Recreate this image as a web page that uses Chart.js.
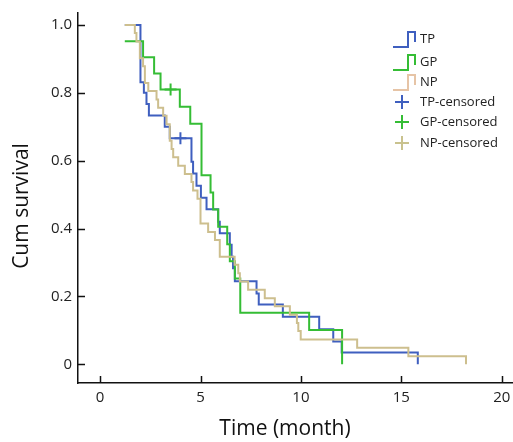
<!DOCTYPE html>
<html lang="en">
<head>
  <meta charset="UTF-8" />
  <title>Survival curves</title>
  <script src="https://cdn.jsdelivr.net/npm/chart.js"></script>
  <style>
    html, body { margin: 0; padding: 0; background: #fff; overflow: hidden; }
    #km { display: block; }
  </style>
</head>
<body>
  <canvas id="km" width="513" height="442"></canvas>

  <script>
    // step times (month) and survival
    const tpTime = [1.23, 2.01, 2.18, 2.31, 2.43, 3.22, 3.47, 4.55, 4.63, 4.8, 5.02, 5.3, 5.88, 5.96, 6.46, 6.55, 6.62, 6.71, 7.79, 7.9, 9.1, 10.91, 11.61, 12.03, 15.82];
    const tpSurv = [1, 0.831, 0.8, 0.767, 0.733, 0.7, 0.666, 0.597, 0.562, 0.526, 0.491, 0.457, 0.42, 0.386, 0.352, 0.317, 0.283, 0.245, 0.209, 0.176, 0.14, 0.103, 0.067, 0.035, 0];

    const gpTime = [1.23, 2.14, 2.69, 3.01, 3.97, 4.49, 5.05, 5.5, 5.63, 5.88, 6.33, 6.46, 6.71, 6.98, 10.41, 12.05];
    const gpSurv = [0.952, 0.905, 0.857, 0.81, 0.759, 0.709, 0.557, 0.506, 0.456, 0.405, 0.354, 0.304, 0.253, 0.152, 0.101, 0];

    const npTime = [1.23, 1.73, 1.81, 1.98, 2.14, 2.23, 2.4, 2.81, 2.89, 3.14, 3.31, 3.47, 3.56, 3.64, 3.89, 4.22, 4.55, 4.63, 4.85, 5.0, 5.38, 5.72, 5.96, 6.7, 6.88, 6.96, 7.37, 8.2, 8.7, 9.45, 9.8, 9.87, 9.99, 12.8, 15.35, 18.22];
    const npSurv = [1, 0.976, 0.951, 0.902, 0.878, 0.829, 0.805, 0.78, 0.756, 0.732, 0.707, 0.659, 0.634, 0.61, 0.585, 0.561, 0.537, 0.512, 0.488, 0.415, 0.39, 0.366, 0.317, 0.293, 0.268, 0.244, 0.22, 0.195, 0.171, 0.146, 0.122, 0.098, 0.073, 0.049, 0.024, 0];

    // censored marks
    const tpCensTime = [4.0];
    const tpCensSurv = [0.666];
    const gpCensTime = [3.51];
    const gpCensSurv = [0.81];
    const npCensTime = [];
    const npCensSurv = [];

    const xTicks = [0, 5, 10, 15, 20];
    const yTicks = [0, 0.2, 0.4, 0.6, 0.8, 1.0];
    const yTickLabels = ['0', '0.2', '0.4', '0.6', '0.8', '1.0'];

    const FONT = '"Open Sans", "DejaVu Sans", sans-serif';
    const colTP = '#3f5fbf';
    const colGP = '#35bd35';
    const colNP = '#cdbf8e';
    const colNPkey = '#e6c4a6';
    const colNPcens = '#c9c28e';

    const pts = (xs, ys) => xs.map((x, i) => ({ x: x, y: ys[i] }));

    function curve(label, xs, ys, color, order) {
      return {
        label: label, data: pts(xs, ys), showLine: true, stepped: true,
        borderColor: color, backgroundColor: color, borderWidth: 2,
        pointRadius: 0, order: order, kind: 'line'
      };
    }
    function cens(label, xs, ys, color) {
      return {
        label: label, data: pts(xs, ys), showLine: false,
        pointStyle: 'cross', pointRadius: 6, borderWidth: 2,
        borderColor: color, backgroundColor: color, order: 0, kind: 'cross'
      };
    }

    // inward tick marks, axis titles and the legend box
    const extras = {
      id: 'extras',
      afterDraw(chart) {
        const ctx = chart.ctx;
        const xs = chart.scales.x, ys = chart.scales.y;
        const a = chart.chartArea;
        ctx.save();
        ctx.strokeStyle = '#111';
        ctx.lineWidth = 1.5;
        ctx.beginPath();
        xTicks.forEach(v => {
          const p = Math.round(xs.getPixelForValue(v)) + 0.5;
          ctx.moveTo(p, a.bottom); ctx.lineTo(p, a.bottom - 7);
        });
        yTicks.forEach(v => {
          const p = Math.round(ys.getPixelForValue(v)) + 0.5;
          ctx.moveTo(a.left, p); ctx.lineTo(a.left + 7, p);
        });
        ctx.stroke();

        ctx.fillStyle = '#111';
        ctx.font = '21px ' + FONT;
        ctx.textAlign = 'center';
        ctx.textBaseline = 'middle';
        ctx.fillText('Time (month)', 285, 429);
        ctx.translate(22, 206);
        ctx.rotate(-Math.PI / 2);
        ctx.fillText('Cum survival', 0, 0);
        ctx.restore();

        // legend
        ctx.save();
        ctx.font = '13px ' + FONT;
        ctx.textBaseline = 'middle';
        ctx.textAlign = 'left';
        const rowY = [39, 62, 82, 102, 122, 143];
        chart.data.datasets.forEach((ds, i) => {
          const y = rowY[i];
          ctx.lineWidth = 2;
          if (ds.kind === 'line') {
            ctx.strokeStyle = ds.keyColor || ds.borderColor;
            ctx.beginPath();
            ctx.moveTo(393, y + 8); ctx.lineTo(408, y + 8);
            ctx.lineTo(408, y - 7); ctx.lineTo(415, y - 7);
            ctx.lineTo(415, y + 3);
            ctx.stroke();
          } else {
            ctx.strokeStyle = ds.borderColor;
            ctx.beginPath();
            ctx.moveTo(395, y); ctx.lineTo(409, y);
            ctx.moveTo(402, y - 7); ctx.lineTo(402, y + 7);
            ctx.stroke();
          }
          ctx.fillStyle = '#222';
          ctx.fillText(ds.label, 420, y);
        });
        ctx.restore();
      }
    };

    const npLine = curve('NP', npTime, npSurv, colNP, 1);
    npLine.keyColor = colNPkey;

    new Chart(document.getElementById('km'), {
      type: 'scatter',
      data: {
        datasets: [
          curve('TP', tpTime, tpSurv, colTP, 3),
          curve('GP', gpTime, gpSurv, colGP, 2),
          npLine,
          cens('TP-censored', tpCensTime, tpCensSurv, colTP),
          cens('GP-censored', gpCensTime, gpCensSurv, colGP),
          cens('NP-censored', npCensTime, npCensSurv, colNPcens)
        ]
      },
      options: {
        responsive: false,
        animation: false,
        layout: { autoPadding: false, padding: { top: 13, right: 0, left: 0, bottom: 0 } },
        plugins: { legend: { display: false }, tooltip: { enabled: false } },
        scales: {
          x: {
            type: 'linear', min: -1.1, max: 20.56,
            afterBuildTicks: s => { s.ticks = xTicks.map(v => ({ value: v })); },
            afterFit: s => { s.height = 59; s.paddingLeft = 0; s.paddingRight = 0; },
            grid: { drawOnChartArea: false, drawTicks: false },
            border: { display: true, color: '#111', width: 1.5 },
            ticks: { padding: 6, color: '#222', font: { family: FONT, size: 15 }, maxRotation: 0 }
          },
          y: {
            type: 'linear', min: -0.055, max: 1.035,
            afterBuildTicks: s => { s.ticks = yTicks.map(v => ({ value: v })); },
            afterFit: s => { s.width = 78; s.paddingTop = 0; s.paddingBottom = 0; },
            grid: { drawOnChartArea: false, drawTicks: false },
            border: { display: true, color: '#111', width: 1.5 },
            ticks: {
              padding: 6, color: '#222', font: { family: FONT, size: 15 },
              callback: (v, i) => yTickLabels[i]
            }
          }
        }
      },
      plugins: [extras]
    });
  </script>
</body>
</html>
